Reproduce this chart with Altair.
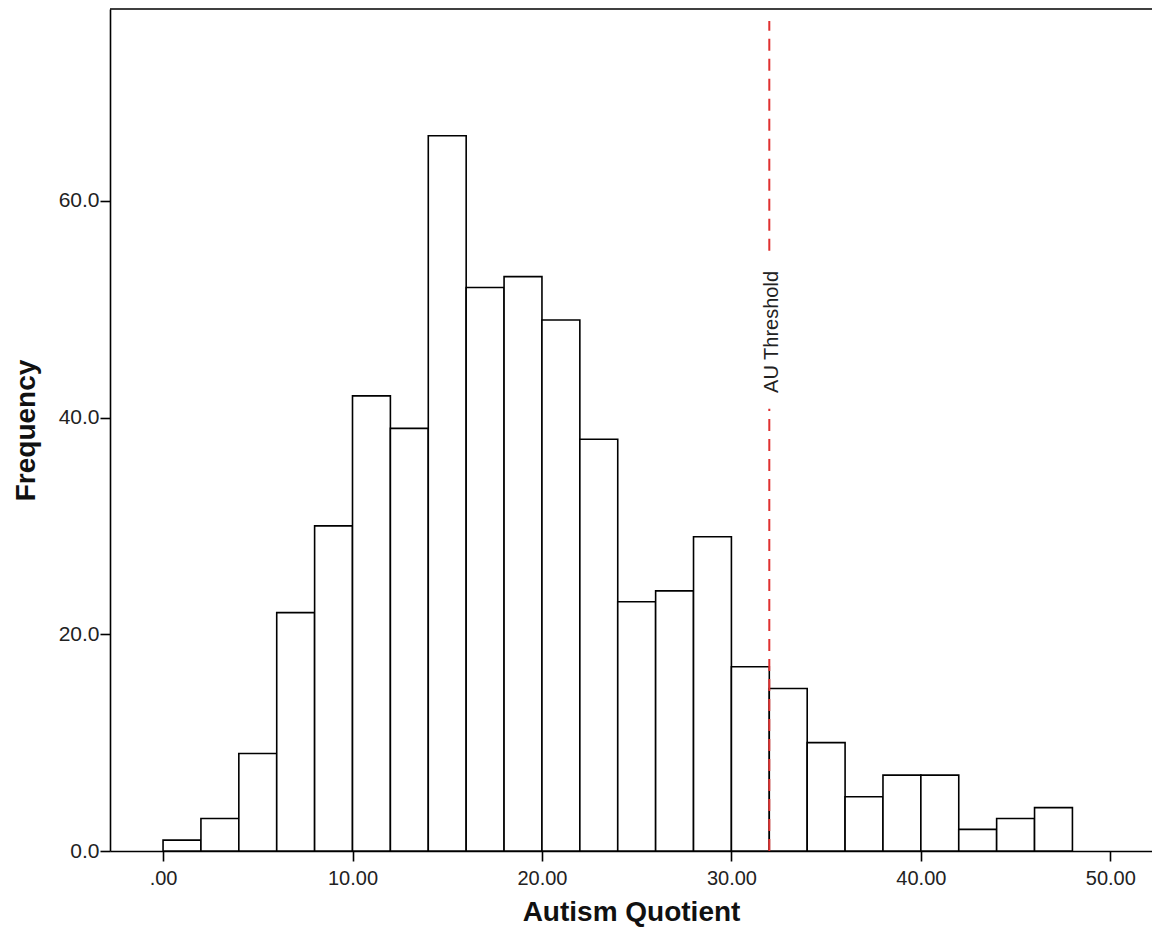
import altair as alt
import pandas as pd

bin_start = [0, 2, 4, 6, 8, 10, 12, 14, 16, 18, 20, 22, 24, 26, 28, 30, 32, 34, 36, 38, 40, 42, 44, 46]
bin_end = [2, 4, 6, 8, 10, 12, 14, 16, 18, 20, 22, 24, 26, 28, 30, 32, 34, 36, 38, 40, 42, 44, 46, 48]
frequency = [1, 3, 9, 22, 30, 42, 39, 66, 52, 53, 49, 38, 23, 24, 29, 17, 15, 10, 5, 7, 7, 2, 3, 4]

threshold = 32
threshold_label = "AU Threshold"
x_ticks = [0, 10, 20, 30, 40, 50]
y_ticks = [0, 20, 40, 60]
x_domain = [-2.8, 52.2]
y_domain = [0, 77.7]

FONT = "Liberation Sans"
W, H = 1042, 842

df = pd.DataFrame({"start": bin_start, "end": bin_end, "freq": frequency})
df["base"] = 0

x_scale = alt.Scale(domain=x_domain, nice=False, zero=False)
y_scale = alt.Scale(domain=y_domain, nice=False)

bars = alt.Chart(df).mark_bar(
    fill="white", stroke="black", strokeWidth=1.6
).encode(
    x=alt.X("start:Q", scale=x_scale,
            axis=alt.Axis(values=x_ticks, title="Autism Quotient",
                          labelExpr="datum.value == 0 ? '.00' : format(datum.value, '.2f')",
                          grid=False, domainColor="black", domainWidth=1.6,
                          tickColor="black", tickWidth=1.6, tickSize=10,
                          labelFont=FONT, labelFontSize=20, labelColor="#222",
                          labelPadding=7,
                          titleFont=FONT, titleFontSize=28, titleFontWeight="bold",
                          titleColor="#111", titlePadding=10)),
    x2="end:Q",
    y=alt.Y("freq:Q", scale=y_scale,
            axis=alt.Axis(values=y_ticks, format=".1f", title="Frequency",
                          grid=False, domainColor="black", domainWidth=1.6,
                          tickColor="black", tickWidth=1.6, tickSize=10,
                          labelFont=FONT, labelFontSize=21, labelColor="#222",
                          labelPadding=1,
                          titleFont=FONT, titleFontSize=28, titleFontWeight="bold",
                          titleColor="#111", titlePadding=18)),
    y2="base:Q",
)

thr_top = pd.DataFrame({"x": [threshold], "y1": [55.4], "y2": [76.6]})
thr_bot = pd.DataFrame({"x": [threshold], "y1": [0], "y2": [40.8]})

rule_top = alt.Chart(thr_top).mark_rule(
    color="#e03030", strokeWidth=2, strokeDash=[12, 8]
).encode(x=alt.X("x:Q", scale=x_scale), y=alt.Y("y1:Q", scale=y_scale), y2="y2:Q")

rule_bot = alt.Chart(thr_bot).mark_rule(
    color="#e03030", strokeWidth=2, strokeDash=[12, 8]
).encode(x=alt.X("x:Q", scale=x_scale), y=alt.Y("y1:Q", scale=y_scale), y2="y2:Q")

label = alt.Chart(pd.DataFrame({"x": [threshold], "y": [47.9], "t": [threshold_label]})).mark_text(
    angle=270, font=FONT, fontSize=20, color="#222", align="center", baseline="middle", dx=0, dy=3
).encode(x=alt.X("x:Q", scale=x_scale), y=alt.Y("y:Q", scale=y_scale), text="t:N")

top_border = alt.Chart(pd.DataFrame({"a": [0]})).mark_rule(color="black", strokeWidth=1.6).encode(
    x=alt.value(0), x2=alt.value(W), y=alt.value(0)
)

chart = alt.layer(bars, rule_bot, rule_top, label, top_border).properties(
    width=W, height=H,
    autosize=alt.AutoSizeParams(type="none"),
    padding={"left": 102, "top": 1, "right": 0, "bottom": 80},
    background="white",
).configure_view(stroke=None)

chart.save("out.html", embed_options={"renderer": "svg", "actions": False})
